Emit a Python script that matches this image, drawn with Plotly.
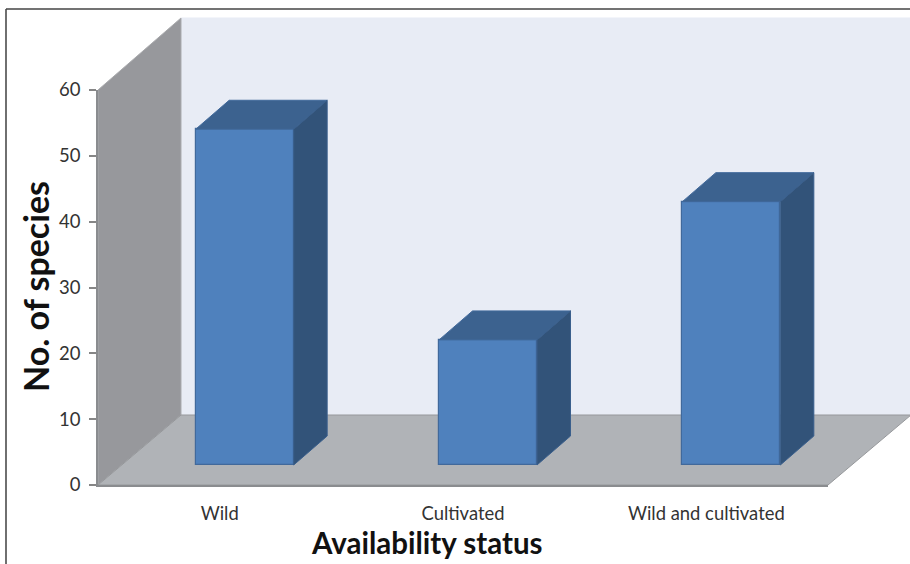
import plotly.graph_objects as go

categories = ["Wild", "Cultivated", "Wild and cultivated"]
species = [51, 19, 40]
y_ticks = [0, 10, 20, 30, 40, 50, 60]

W, H = 910, 564
X0, X1, Y0, Y1 = 98, 828, 485, 90  # plot box in pixels
px_per_x = (X1 - X0) / 3
px_per_y = (Y0 - Y1) / 60

def paper_x(p):
    return p / W

def paper_y(p):
    return 1 - p / H

# depth of the pseudo-3D bars, in data units
shift_x = 25 / px_per_x
lift = 20 / px_per_y
bar_w = 98 / px_per_x
depth_x = 33.5 / px_per_x
depth_y = 29 / px_per_y

FRONT, TOP, SIDE = "#4f81bd", "#3c628f", "#325379"
fig = go.Figure()

xs = [i + shift_x for i in range(len(categories))]
fig.add_trace(go.Bar(
    x=xs, y=species, base=lift, width=bar_w, cliponaxis=False,
    marker=dict(color=FRONT, line=dict(color="#41699b", width=1.2)),
    hoverinfo="skip", showlegend=False,
))

for cx, v in zip(xs, species):
    l, r = cx - bar_w / 2, cx + bar_w / 2
    b, t = lift, lift + v
    fig.add_trace(go.Scatter(
        x=[l, r, r + depth_x, l + depth_x, l],
        y=[t, t, t + depth_y, t + depth_y, t],
        mode="lines", fill="toself", fillcolor=TOP, cliponaxis=False,
        line=dict(color="#41699b", width=1), hoverinfo="skip", showlegend=False,
    ))
    fig.add_trace(go.Scatter(
        x=[r, r + depth_x, r + depth_x, r, r],
        y=[b, b + depth_y, t + depth_y, t, b],
        mode="lines", fill="toself", fillcolor=SIDE, cliponaxis=False,
        line=dict(color="#3a5f8c", width=1), hoverinfo="skip", showlegend=False,
    ))

def poly(points, fill, line=None, width=1):
    path = "M " + " L ".join(f"{paper_x(x):.5f} {paper_y(y):.5f}" for x, y in points) + " Z"
    return dict(type="path", xref="paper", yref="paper", path=path, layer="below",
                fillcolor=fill, line=dict(color=line or fill, width=width))

shapes = [
    # picture frame
    dict(type="line", xref="paper", yref="paper", x0=paper_x(6), x1=paper_x(6),
         y0=paper_y(9), y1=0, line=dict(color="#333333", width=1.4), layer="below"),
    dict(type="line", xref="paper", yref="paper", x0=paper_x(6), x1=1,
         y0=paper_y(9), y1=paper_y(9), line=dict(color="#444444", width=1.4), layer="below"),
    # back wall, side wall, floor
    poly([(181, 18), (910, 18), (910, 415), (181, 415)], "#e8ecf5"),
    poly([(98, 90), (181, 18), (181, 415), (98, 485)], "#97989c", "#a9aaad"),
    poly([(98, 485), (181, 415), (911, 415), (828, 485)], "#b0b3b7", "#96989b"),
]

fig.update_layout(
    width=W, height=H, autosize=False,
    margin=dict(l=0, r=0, t=0, b=0, pad=0, autoexpand=False),
    paper_bgcolor="white", plot_bgcolor="rgba(0,0,0,0)",
    font=dict(family="Lato, Carlito, sans-serif", color="#333333"),
    shapes=shapes, bargap=0,
    xaxis=dict(
        domain=[paper_x(X0), paper_x(X1)], range=[-0.5, 2.5],
        tickmode="array", tickvals=[0, 1, 2], ticktext=categories,
        ticks="", showgrid=False, zeroline=False,
        showline=True, linecolor="#8a8c8f", linewidth=1.5,
        tickfont=dict(size=18.4, color="#333333"), ticklabelstandoff=11,
    ),
    yaxis=dict(
        domain=[paper_y(Y0), paper_y(Y1)], range=[0, 60],
        tickmode="array", tickvals=y_ticks,
        ticks="outside", ticklen=7, tickcolor="#868686", tickwidth=1.5,
        showgrid=False, zeroline=False,
        showline=True, linecolor="#8a8c8f", linewidth=1.5,
        tickfont=dict(size=18.5, color="#333333"), ticklabelstandoff=5,
    ),
    annotations=[
        dict(text="<b>Availability status</b>", xref="paper", yref="paper",
             x=paper_x(427), y=paper_y(542), showarrow=False,
             xanchor="center", yanchor="middle", font=dict(size=29.5, color="#111111")),
        dict(text="<b>No. of species</b>", xref="paper", yref="paper",
             x=paper_x(35), y=paper_y(287), showarrow=False, textangle=-90,
             xanchor="center", yanchor="middle", font=dict(size=34, color="#111111")),
    ],
)

fig.write_html("out.html", config=dict(displayModeBar=False),
               post_script="document.body.style.margin='0';document.body.style.overflow='hidden';")
